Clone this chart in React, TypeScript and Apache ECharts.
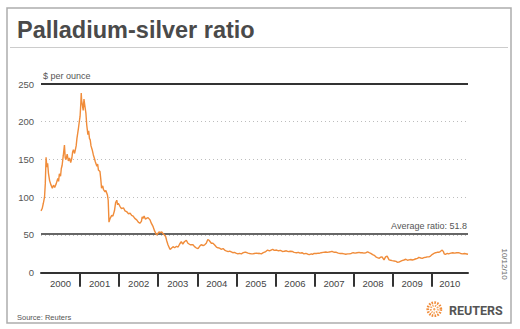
import React, { useEffect, useRef } from "react";
import * as echarts from "echarts";

// Decimal-year positions of the readings
const dates = [
  2000.0, 2000.03, 2000.06, 2000.09, 2000.11, 2000.13, 2000.15, 2000.17, 2000.19, 2000.22,
  2000.25, 2000.29, 2000.32, 2000.35, 2000.39, 2000.43, 2000.45, 2000.47, 2000.5, 2000.52,
  2000.54, 2000.57, 2000.6, 2000.62, 2000.64, 2000.67, 2000.7, 2000.73, 2000.76, 2000.79,
  2000.81, 2000.83, 2000.86, 2000.9, 2000.92, 2000.96, 2000.98, 2001.0, 2001.02, 2001.03,
  2001.04, 2001.06, 2001.08, 2001.1, 2001.12, 2001.15, 2001.17, 2001.2, 2001.22, 2001.24,
  2001.26, 2001.28, 2001.31, 2001.34, 2001.37, 2001.39, 2001.43, 2001.45, 2001.47, 2001.51,
  2001.53, 2001.55, 2001.58, 2001.6, 2001.64, 2001.66, 2001.7, 2001.72, 2001.74, 2001.77,
  2001.81, 2001.84, 2001.88, 2001.91, 2001.94, 2001.96, 2001.98, 2002.02, 2002.06, 2002.11,
  2002.15, 2002.19, 2002.24, 2002.28, 2002.32, 2002.36, 2002.4, 2002.45, 2002.49, 2002.53,
  2002.57, 2002.59, 2002.61, 2002.64, 2002.67, 2002.7, 2002.74, 2002.79, 2002.82, 2002.87,
  2002.91, 2002.96, 2002.99, 2003.02, 2003.05, 2003.09, 2003.12, 2003.16, 2003.19, 2003.22,
  2003.25, 2003.3, 2003.33, 2003.38, 2003.42, 2003.47, 2003.51, 2003.55, 2003.59, 2003.63,
  2003.67, 2003.72, 2003.76, 2003.82, 2003.89, 2003.93, 2003.97, 2004.02, 2004.06, 2004.1,
  2004.15, 2004.19, 2004.23, 2004.27, 2004.3, 2004.33, 2004.36, 2004.4, 2004.44, 2004.49,
  2004.53, 2004.57, 2004.61, 2004.66, 2004.7, 2004.74, 2004.79, 2004.83, 2004.87, 2004.91,
  2004.95, 2004.99, 2005.04, 2005.08, 2005.13, 2005.17, 2005.21, 2005.25, 2005.3, 2005.34,
  2005.39, 2005.42, 2005.46, 2005.52, 2005.55, 2005.59, 2005.64, 2005.69, 2005.74, 2005.8,
  2005.85, 2005.89, 2005.93, 2005.97, 2006.03, 2006.08, 2006.13, 2006.19, 2006.23, 2006.28,
  2006.33, 2006.38, 2006.44, 2006.48, 2006.54, 2006.59, 2006.63, 2006.68, 2006.73, 2006.78,
  2006.83, 2006.87, 2006.92, 2006.95, 2006.99, 2007.05, 2007.1, 2007.12, 2007.17, 2007.22,
  2007.29, 2007.34, 2007.38, 2007.43, 2007.46, 2007.51, 2007.56, 2007.61, 2007.66, 2007.71,
  2007.76, 2007.8, 2007.85, 2007.89, 2007.94, 2007.99, 2008.04, 2008.09, 2008.14, 2008.18,
  2008.22, 2008.27, 2008.32, 2008.36, 2008.4, 2008.44, 2008.49, 2008.53, 2008.57, 2008.61,
  2008.66, 2008.69, 2008.73, 2008.78, 2008.82, 2008.86, 2008.91, 2008.95, 2008.99, 2009.04,
  2009.09, 2009.12, 2009.16, 2009.2, 2009.24, 2009.29, 2009.34, 2009.38, 2009.42, 2009.47,
  2009.5, 2009.55, 2009.6, 2009.64, 2009.67, 2009.72, 2009.76, 2009.8, 2009.85, 2009.89,
  2009.93, 2009.97, 2010.02, 2010.06, 2010.1, 2010.14, 2010.18, 2010.22, 2010.27, 2010.3,
  2010.32, 2010.35, 2010.4, 2010.43, 2010.49, 2010.54, 2010.59, 2010.64, 2010.69, 2010.74,
  2010.79, 2010.84, 2010.93,
];

// Palladium-silver ratio readings
const ratios = [
  82, 85, 92, 100, 118, 153, 140, 145, 132, 122,
  117, 112, 116, 113, 118, 125, 121, 131, 128, 138,
  142, 155, 169, 152, 150, 157, 148, 152, 146, 152,
  160, 163, 158, 168, 178, 192, 200, 207, 225, 238,
  228, 222, 215, 230, 222, 211, 196, 183, 188, 178,
  176, 168, 163, 156, 151, 147, 141, 144, 136, 134,
  124, 112, 115, 110, 107, 109, 103, 96, 67, 72,
  76, 75, 82, 93, 96, 90, 92, 88, 85, 86,
  82, 81, 78, 79, 76, 75, 72, 70, 67, 65.5,
  68, 74, 72, 75, 71, 72, 73, 70, 66, 61,
  55, 50, 52, 54, 53, 54, 52, 50, 48, 42,
  37, 31, 32, 34.5, 33, 35, 34, 38, 41, 38,
  41, 43, 39, 37, 37, 34.5, 33, 32, 35, 37,
  36, 37, 39, 44, 43, 41, 39, 39, 37, 34,
  33, 32.5, 31, 32, 30, 29, 28, 28.5, 27.5, 26.5,
  27, 26, 25, 25.7, 25, 26.5, 27, 27, 26, 25.5,
  25, 25, 25.5, 26, 25.5, 25.7, 25, 26.5, 27.5, 30,
  29, 30, 31, 29.5, 30, 29, 29.5, 28, 28.5, 29,
  28, 28.5, 28, 27, 26.5, 27, 26, 26.5, 25, 25.7,
  24.5, 24, 25, 24.4, 25.5, 25.5, 26, 25.7, 26.5, 27,
  27.5, 27, 27.5, 28, 28, 27, 27, 26, 25.5, 25.5,
  25, 24.4, 25, 25, 25.5, 26.5, 26, 26.5, 27, 26.5,
  26.5, 26, 26.5, 27.5, 26.5, 25.7, 24, 23, 21, 20,
  19, 20.5, 21, 17, 21, 22, 17, 16.5, 16, 15.5,
  15, 13.8, 14, 15, 16, 16.8, 17.8, 16.5, 17, 17.5,
  16.8, 17.5, 18.5, 19, 20.4, 19.5, 19, 20, 20.5, 21,
  21, 22, 24.4, 25.5, 26.5, 27, 27, 28, 30, 28,
  25, 24.4, 25.5, 25, 26, 26.5, 26, 26.5, 26.5, 25.5,
  25, 25.5, 24.5,
];

const yearLabels = [2000, 2001, 2002, 2003, 2004, 2005, 2006, 2007, 2008, 2009, 2010];
const yearTicks = [2001, 2002, 2003, 2004, 2005, 2006, 2007, 2008, 2009, 2010];
const averageRatio = 51.8;
const xMin = 2000;
const xMax = 2010.93;
const yTicks = [0, 50, 100, 150, 200, 250];

export default function App() {
  const ref = useRef<HTMLDivElement>(null);

  useEffect(() => {
    if (!ref.current) return;
    const chart = echarts.init(ref.current, null, { renderer: "svg" });
    const data = dates.map((d, i) => [d, ratios[i]]);
    const labelPositions = yearLabels.map((y) => (y + Math.min(y + 1, xMax)) / 2);
    const font = "'Liberation Sans', Arial, sans-serif";

    chart.setOption({
      animation: false,
      backgroundColor: "#ffffff",
      textStyle: { fontFamily: font },
      grid: { left: 41, right: 52, top: 84, bottom: 56.3 },
      xAxis: {
        type: "value",
        min: xMin,
        max: xMax,
        interval: 1,
        axisLine: { show: true, lineStyle: { color: "#333333", width: 2 } },
        axisTick: {
          show: true,
          customValues: yearTicks,
          length: 14,
          lineStyle: { color: "#333333", width: 2 },
        },
        axisLabel: {
          show: true,
          customValues: labelPositions,
          formatter: (v: number) => String(Math.floor(v)),
          color: "#444444",
          fontSize: 9.5,
          fontFamily: font,
          margin: 6,
        },
        splitLine: { show: false },
      },
      yAxis: {
        type: "value",
        min: 0,
        max: 250,
        interval: 50,
        axisLine: { show: false },
        axisTick: { show: false },
        axisLabel: {
          color: "#555555",
          fontSize: 9.5,
          fontFamily: font,
          margin: 7,
          customValues: yTicks,
        },
        splitLine: {
          show: true,
          lineStyle: { color: "#bdbdbd", type: [1, 3], width: 1 },
        },
      },
      series: [
        {
          type: "line",
          data,
          showSymbol: false,
          symbol: "none",
          lineStyle: { color: "#F08C3A", width: 1.4 },
          itemStyle: { color: "#F08C3A" },
          z: 3,
          markLine: {
            silent: true,
            symbol: ["none", "none"],
            z: 2,
            lineStyle: { color: "#333333", type: "solid" },
            data: [
              {
                yAxis: 250,
                lineStyle: { color: "#333333", width: 2, type: "solid" },
                label: { show: false },
              },
              {
                yAxis: averageRatio,
                lineStyle: { color: "#333333", width: 1.6, type: "solid" },
                label: {
                  show: true,
                  position: "insideEndTop",
                  formatter: "Average ratio: " + averageRatio,
                  color: "#555555",
                  fontSize: 9,
                  fontFamily: font,
                  distance: [1, 3],
                },
              },
            ],
          },
        },
      ],
      graphic: [
        {
          type: "rect",
          shape: { x: 7, y: 8, width: 504, height: 315 },
          style: { fill: "none", stroke: "#adadad", lineWidth: 1.5 },
          silent: true,
        },
        {
          type: "line",
          shape: { x1: 10, y1: 47.5, x2: 508, y2: 47.5 },
          style: { stroke: "#cccccc", lineWidth: 1 },
          silent: true,
        },
        {
          type: "text",
          x: 17,
          y: 29.5,
          style: {
            text: "Palladium-silver ratio",
            font: "bold 23.5px 'Liberation Sans', Arial, sans-serif",
            fill: "#4a4a4a",
            verticalAlign: "middle",
            align: "left",
          },
        },
        {
          type: "text",
          x: 43,
          y: 75.7,
          style: {
            text: "$ per ounce",
            font: "9px 'Liberation Sans', Arial, sans-serif",
            fill: "#555555",
            verticalAlign: "middle",
            align: "left",
          },
        },
        {
          type: "text",
          x: 17,
          y: 317,
          style: {
            text: "Source: Reuters",
            font: "7.5px 'Liberation Sans', Arial, sans-serif",
            fill: "#555555",
            verticalAlign: "middle",
            align: "left",
          },
        },
        {
          type: "text",
          x: 504,
          y: 264,
          rotation: -Math.PI / 2,
          style: {
            text: "10/12/10",
            font: "8px 'Liberation Sans', Arial, sans-serif",
            fill: "#666666",
            verticalAlign: "middle",
            align: "center",
          },
        },
        {
          type: "circle",
          shape: { cx: 434.3, cy: 309.2, r: 6.6 },
          style: { fill: "none", stroke: "#F08C3A", lineWidth: 2.6, lineDash: [1.6, 1.2] },
          silent: true,
        },
        {
          type: "circle",
          shape: { cx: 434.3, cy: 309.2, r: 3.6 },
          style: { fill: "none", stroke: "#F4A45E", lineWidth: 2, lineDash: [1.3, 1.1] },
          silent: true,
        },
        {
          type: "circle",
          shape: { cx: 434.3, cy: 309.2, r: 1.2 },
          style: { fill: "#F4A45E" },
          silent: true,
        },
        {
          type: "text",
          x: 449,
          y: 310.3,
          style: {
            text: "REUTERS",
            font: "bold 12.5px Roboto, 'Liberation Sans', Arial, sans-serif",
            fill: "#555555",
            verticalAlign: "middle",
            align: "left",
          },
        },
      ],
    });

    return () => chart.dispose();
  }, []);

  return (
    <div
      ref={ref}
      style={{ position: "fixed", left: 0, top: 0, width: 520, height: 329, background: "#fff" }}
    />
  );
}
